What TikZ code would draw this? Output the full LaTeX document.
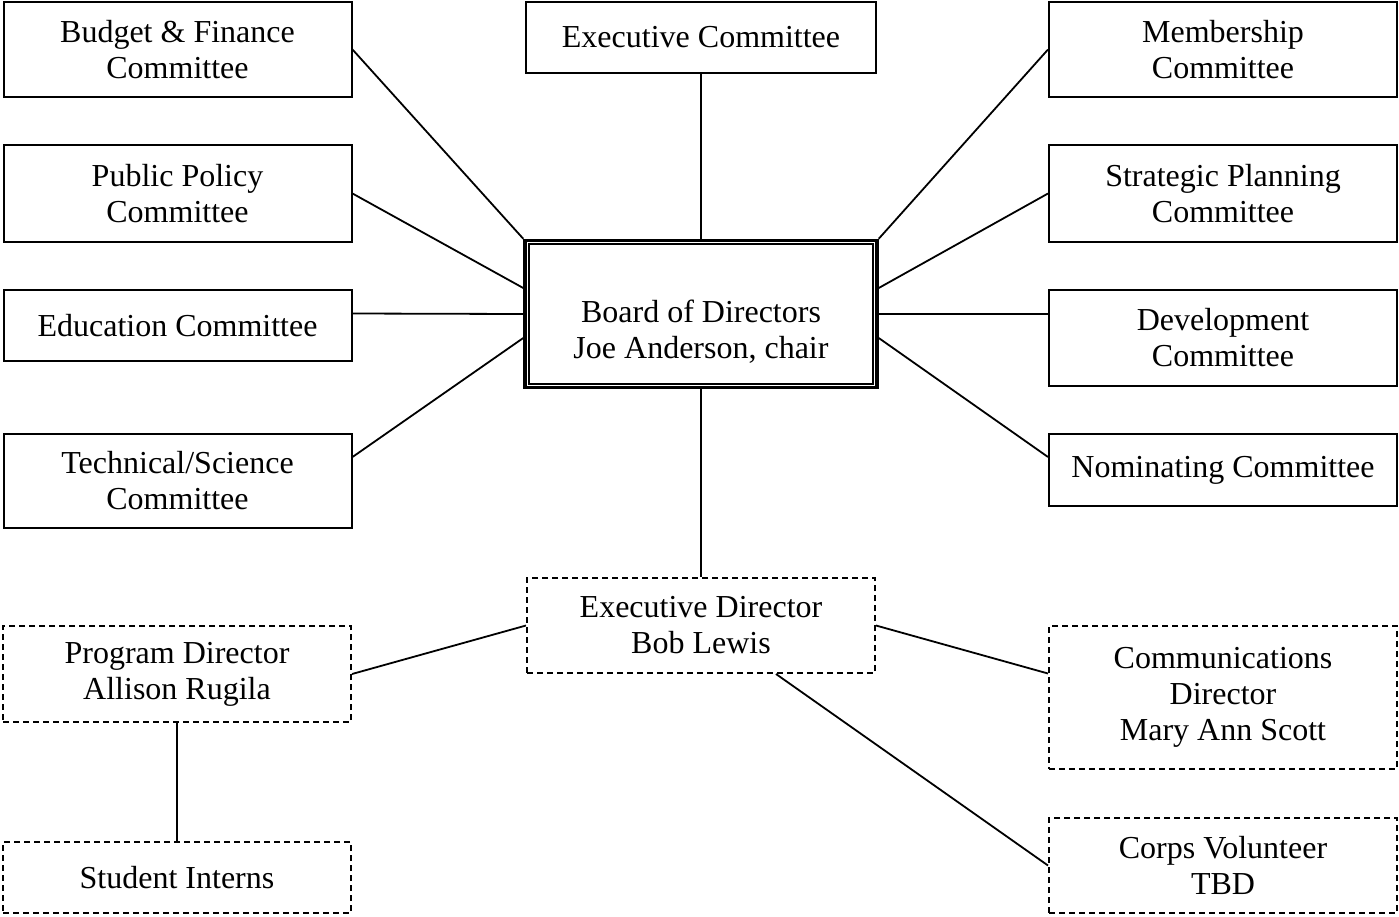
\documentclass[tikz,border=0pt]{standalone}
\usepackage{fontspec}
\setmainfont{Liberation Serif}
\tikzset{
    box/.style={draw, line width=2pt, align=center, inner sep=0pt,
        minimum width=348pt},
    dashbox/.style={box, dash pattern=on 6pt off 4pt},
    boardframe/.style={draw, line width=2.5pt, inner sep=0pt,
        minimum width=353pt, minimum height=148pt},
    link/.style={line width=1.8pt},
}

\begin{document}
\begin{tikzpicture}[x=1pt, y=-1pt, font=\fontsize{32}{36}\selectfont]
    \useasboundingbox (0,0) rectangle (1399,916);
    % board in the middle
    \node[boardframe] (board) at (701,314) {};
    \draw[line width=0.8pt] ([xshift=3pt,yshift=-3pt]board.north west)
        rectangle ([xshift=-3pt,yshift=3pt]board.south east);
    \draw[line width=2pt] ([xshift=5.5pt,yshift=-5.5pt]board.north west)
        rectangle ([xshift=-5.5pt,yshift=5.5pt]board.south east);
    \node[align=center] (boardtxt) at (701,332)
        {Board of Directors\\Joe Anderson, chair};
    % committees
    \node[box, minimum height=95pt] (budget) at (177.5,49.5)
        {Budget \& Finance\\Committee};
    \node[box, minimum height=71pt, minimum width=350pt] (execcom) at (701,37.5)
        {Executive Committee};
    \node[box, minimum height=95pt] (member) at (1223,49.5)
        {Membership\\Committee};
    \node[box, minimum height=97pt] (policy) at (177.5,193.5)
        {Public Policy\\Committee};
    \node[box, minimum height=97pt] (strategic) at (1223,193.5)
        {Strategic Planning\\Committee};
    \node[box, minimum height=71pt] (educ) at (177.5,325.5)
        {Education Committee};
    \node[box, minimum height=96pt] (develop) at (1223,338)
        {Development\\Committee};
    \node[box, minimum height=94pt] (techsci) at (177.5,481)
        {Technical/Science\\Committee};
    \node[box, minimum height=72pt] (nominate) at (1223,470)
        {Nominating Committee};
    % staff
    \node[dashbox, minimum height=95pt] (execdir) at (701,625.5)
        {Executive Director\\Bob Lewis};
    \node[dashbox, minimum height=96pt] (program) at (177,674)
        {Program Director\\Allison Rugila};
    \node[dashbox, minimum height=143pt] (comms) at (1223,697.5)
        {Communications\\Director\\Mary Ann Scott};
    \node[dashbox, minimum height=71pt] (interns) at (177,877.5)
        {Student Interns};
    \node[dashbox, minimum height=95pt] (corps) at (1223,865.5)
        {Corps Volunteer\\TBD};
    % attach points off the anchors
    \coordinate (boardwu) at ([yshift=26pt]board.west);
    \coordinate (boardwd) at ([yshift=-24pt]board.west);
    \coordinate (boardeu) at ([yshift=26pt]board.east);
    \coordinate (boarded) at ([yshift=-24pt]board.east);
    \coordinate (educe) at ([yshift=12pt]educ.east);
    \coordinate (developw) at ([yshift=24pt]develop.west);
    \coordinate (techscie) at ([yshift=24pt]techsci.east);
    \coordinate (nominatew) at ([yshift=13pt]nominate.west);
    \coordinate (commsw) at ([yshift=24pt]comms.west);
    \coordinate (execdirs) at ([xshift=75pt]execdir.south);
    % connectors
    \foreach \from/\to in {budget.east/board.north west,
            execcom.south/board.north,
            member.west/board.north east,
            policy.east/boardwu,
            strategic.west/boardeu,
            educe/board.west,
            developw/board.east,
            techscie/boardwd,
            nominatew/boarded,
            board.south/execdir.north,
            execdir.west/program.east,
            execdir.east/commsw,
            execdirs/corps.west,
            program.south/interns.north}
        \draw[link] (\from) -- (\to);
\end{tikzpicture}
\end{document}
